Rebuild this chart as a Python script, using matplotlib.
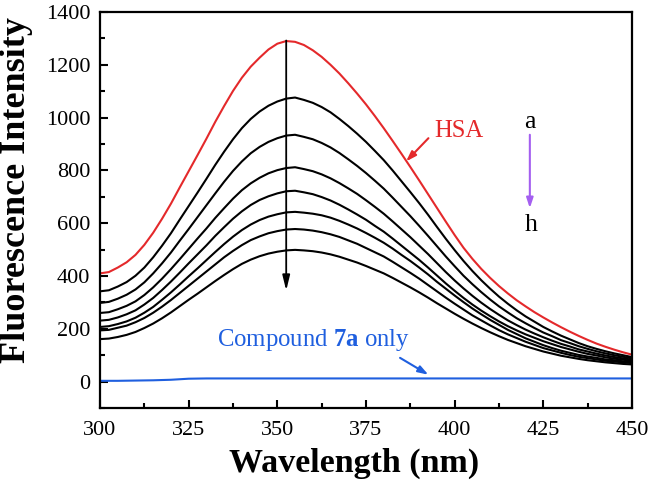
import matplotlib
matplotlib.use("Agg")
import matplotlib.pyplot as plt
from matplotlib.ticker import MultipleLocator

plt.rcParams['font.family'] = ['Liberation Serif', 'DejaVu Serif']
plt.rcParams['mathtext.fontset'] = 'custom'
plt.rcParams['mathtext.rm'] = 'Liberation Serif'
plt.rcParams['mathtext.bf'] = 'Liberation Serif:bold'

# wavelength grid (nm), 300..450 every 2.5 nm
wavelength = [300 + 2.5 * i for i in range(61)]

# HSA alone (curve a)
hsa = [410, 415, 432, 452, 480, 518, 564, 617, 674, 736, 797, 858, 920, 984,
       1044, 1101, 1151, 1193, 1227, 1258, 1280, 1290, 1287,
       1275, 1255, 1230, 1200, 1167, 1130, 1091, 1050, 1006, 960,
       912, 863, 813, 762, 710, 658, 606, 555, 507, 465,
       427, 393, 362, 334, 308, 285, 263, 243, 224, 206,
       189, 173, 158, 144, 132, 121, 111, 102]

# HSA + increasing amounts of compound 7a (curves b..h)
curve_b = [342, 346, 360, 377, 401, 432, 471, 515, 562, 614, 665, 716, 768, 821,
           871, 918, 960, 995, 1023, 1045, 1061, 1072, 1076,
           1067, 1056, 1040, 1020, 995, 968, 939, 908, 874, 839,
           800, 759, 718, 676, 632, 586, 541, 498, 457, 419,
           384, 352, 322, 295, 270, 247, 227, 207, 190, 174,
           160, 146, 134, 124, 115, 107, 100, 93]
curve_c = [298, 302, 314, 329, 349, 376, 410, 448, 489, 534, 578, 623, 668, 713,
           757, 798, 834, 865, 889, 908, 922, 932, 935,
           927, 918, 904, 887, 866, 842, 817, 790, 761, 731,
           697, 662, 627, 590, 552, 513, 474, 437, 401, 369,
           339, 311, 285, 262, 240, 221, 203, 186, 172, 157,
           146, 134, 124, 115, 107, 100, 94, 88]
curve_d = [260, 263, 274, 287, 304, 328, 357, 390, 426, 464, 503, 542, 580, 620,
           657, 693, 725, 751, 772, 789, 801, 809, 812,
           805, 797, 785, 770, 752, 732, 711, 687, 662, 636,
           607, 577, 547, 515, 483, 449, 415, 383, 353, 325,
           299, 275, 253, 232, 214, 197, 182, 168, 155, 143,
           133, 122, 114, 106, 99, 93, 88, 83]
curve_e = [231, 234, 243, 255, 270, 292, 317, 347, 379, 413, 448, 482, 516, 552,
           585, 617, 645, 669, 688, 702, 713, 721, 723,
           717, 710, 699, 686, 670, 652, 633, 613, 590, 568,
           542, 515, 488, 461, 432, 402, 372, 344, 317, 292,
           269, 248, 228, 210, 194, 179, 166, 153, 142, 131,
           122, 113, 105, 99, 92, 87, 83, 78]
curve_f = [207, 210, 218, 228, 242, 261, 283, 310, 338, 368, 399, 429, 460, 491,
           521, 549, 574, 595, 612, 625, 634, 641, 643,
           640, 636, 630, 621, 609, 595, 580, 563, 545, 526,
           504, 480, 457, 432, 406, 378, 352, 326, 301, 277,
           255, 234, 215, 196, 180, 164, 151, 138, 127, 117,
           109, 101, 95, 90, 84, 81, 77, 74]
curve_g = [194, 196, 204, 212, 225, 241, 261, 284, 309, 336, 363, 390, 417, 444,
           471, 495, 517, 536, 550, 562, 570, 576, 578,
           576, 572, 566, 558, 548, 535, 522, 506, 490, 474,
           454, 433, 412, 390, 366, 342, 318, 295, 273, 251,
           232, 213, 195, 179, 165, 151, 139, 127, 118, 109,
           101, 94, 89, 84, 79, 76, 73, 70]
curve_h = [161, 163, 169, 177, 188, 203, 220, 240, 262, 286, 310, 333, 357, 381,
           404, 426, 446, 462, 475, 485, 492, 497, 499,
           497, 494, 489, 482, 473, 462, 451, 438, 424, 410,
           393, 375, 357, 338, 318, 297, 277, 257, 238, 220,
           203, 187, 172, 158, 146, 134, 124, 114, 106, 98,
           92, 86, 81, 77, 73, 70, 67, 65]
black_curves = [curve_b, curve_c, curve_d, curve_e, curve_f, curve_g, curve_h]

# compound 7a only
compound_wl = [300, 305, 310, 315, 320, 325, 330, 350, 400, 450]
compound = [3, 3, 4, 5, 7, 11, 12, 12, 12, 12]

red = '#e4292b'
blue = '#1f5fdf'
purple = '#a45ff0'

fig = plt.figure(figsize=(6.52, 4.84), dpi=100)
ax = fig.add_axes([0.1534, 0.157, 0.8159, 0.8182])

for ys in black_curves:
    ax.plot(wavelength, ys, color='black', lw=1.5)
ax.plot(wavelength, hsa, color=red, lw=1.5)
ax.plot(compound_wl, compound, color=blue, lw=1.5)

ax.set_xlim(300, 450)
ax.set_ylim(-100, 1400)
ax.xaxis.set_major_locator(MultipleLocator(25))
ax.xaxis.set_minor_locator(MultipleLocator(12.5))
ax.yaxis.set_major_locator(MultipleLocator(200))
ax.yaxis.set_minor_locator(MultipleLocator(100))
ax.tick_params(which='both', direction='in', width=1.5, labelsize=16,
               top=False, right=False)
ax.tick_params(which='major', length=6, pad=7)
ax.tick_params(axis='x', which='major', pad=9)
ax.tick_params(which='minor', length=3.5)
for sp in ax.spines.values():
    sp.set_linewidth(1.6)

ax.set_xlabel('Wavelength (nm)', fontsize=24.5, fontweight='bold', labelpad=6)
ax.set_ylabel('Fluorescence Intensity', fontsize=26, fontweight='bold', labelpad=9)
ax.xaxis.label.set_x(0.477)
ax.yaxis.label.set_y(0.55)

# quenching arrow
ax.annotate('', xy=(352.5, 345), xytext=(352.5, 1292),
            arrowprops=dict(arrowstyle='-|>,head_length=0.9,head_width=0.22',
                            color='black', lw=1.3, shrinkA=0, shrinkB=0))

# HSA label
ax.text(401.2, 950, 'HSA', color=red, fontsize=17.8, ha='center', va='center')
ax.annotate('', xy=(386.3, 834), xytext=(392.6, 922),
            arrowprops=dict(arrowstyle='-|>,head_length=0.6,head_width=0.2',
                            color=red, lw=1.5, shrinkA=0, shrinkB=0))

# a -> h
ax.text(421.2, 985, 'a', fontsize=18.5, ha='center', va='center')
ax.text(421.7, 594, 'h', fontsize=18.5, ha='center', va='center')
ax.annotate('', xy=(421.2, 657), xytext=(421.2, 935),
            arrowprops=dict(arrowstyle='-|>,head_length=0.6,head_width=0.2',
                            color=purple, lw=1.5, shrinkA=0, shrinkB=0))

# compound only label
ax.text(360.3, 159, r'Compound $\mathbf{7a}$ only', color=blue, fontsize=17.8,
        ha='center', va='center')
ax.annotate('', xy=(392.6, 26), xytext=(384.6, 90),
            arrowprops=dict(arrowstyle='-|>,head_length=0.6,head_width=0.2',
                            color=blue, lw=1.5, shrinkA=0, shrinkB=0))

fig.savefig('out.png', dpi=100)
